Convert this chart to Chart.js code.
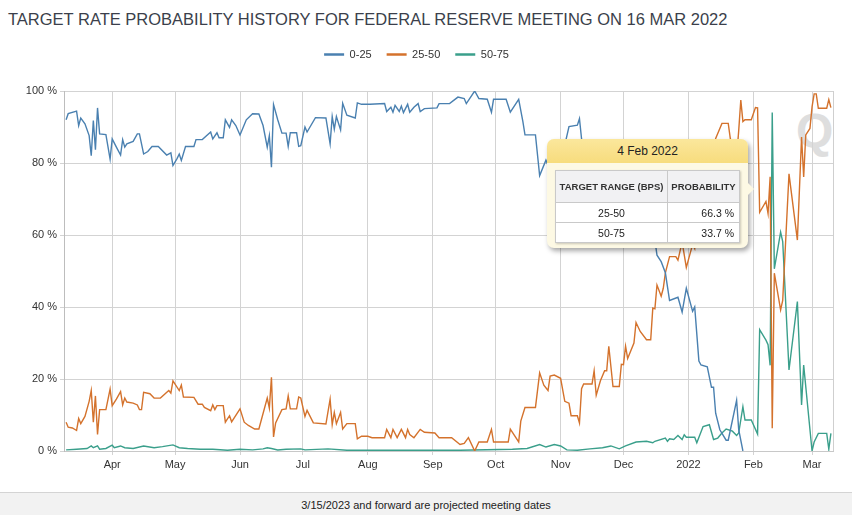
<!DOCTYPE html>
<html>
<head>
<meta charset="utf-8">
<script src="https://cdn.jsdelivr.net/npm/chart.js@4.4.1/dist/chart.umd.min.js"></script>
<style>
  html, body { margin: 0; padding: 0; background: #fff; }
  body { width: 852px; height: 515px; position: relative; overflow: hidden; font-family: "Liberation Sans", Arial, sans-serif; }
  #title { position: absolute; left: 8px; top: 9px; font-size: 16.5px; line-height: 20px; color: #3b3f4b; white-space: nowrap; }
  #logo { position: absolute; left: 796px; top: 104px; font-size: 48px; font-weight: bold; color: #dedede; line-height: 54px; }
  #chart { position: absolute; left: 0; top: 0; }
  #footer { position: absolute; left: 0; top: 492px; width: 852px; height: 23px; border-top: 1px solid #d4d4d4; background: #f2f2f2; text-align: center; font-size: 11px; line-height: 24px; color: #222; }
  #tip { position: absolute; left: 547px; top: 139px; width: 201px; height: 109px; background: #fdf9e4; border-radius: 7px; box-shadow: 2px 3px 5px rgba(0,0,0,0.35); }
  #tip .head { height: 24px; border-radius: 7px 7px 0 0; background: linear-gradient(#fbe79c, #f7dc7d); text-align: center; font-size: 12px; line-height: 25px; color: #222; }
  #tip .arrow { position: absolute; right: -6px; top: 44px; width: 0; height: 0; border-top: 6px solid transparent; border-bottom: 6px solid transparent; border-left: 6px solid #fdf9e4; }
  #tip table { position: absolute; left: 8px; top: 31px; width: 184px; table-layout: fixed; border-collapse: collapse; background: #fff; box-shadow: 1px 1px 2px rgba(0,0,0,0.2); }
  #tip th { height: 31px; background: #f1f1f3; font-size: 9.5px; font-weight: bold; color: #333; border: 1px solid #c9c9c9; padding: 0 2px; white-space: nowrap; }
  #tip td { height: 19px; font-size: 10.5px; color: #222; border: 1px solid #c9c9c9; padding: 0 5px; white-space: nowrap; }
  #tip td.c { text-align: center; }
  #tip td.r { text-align: right; }
</style>
</head>
<body>
<div id="title">TARGET RATE PROBABILITY HISTORY FOR FEDERAL RESERVE MEETING ON 16 MAR 2022</div>
<div id="logo">Q</div>
<canvas id="chart" width="852" height="490"></canvas>
<div id="tip">
  <div class="head">4 Feb 2022</div>
  <div class="arrow"></div>
  <table>
    <colgroup><col style="width:112px"><col style="width:72px"></colgroup>
    <tr><th>TARGET RANGE (BPS)</th><th>PROBABILITY</th></tr>
    <tr><td class="c">25-50</td><td class="r">66.3 %</td></tr>
    <tr><td class="c">50-75</td><td class="r">33.7 %</td></tr>
  </table>
</div>
<div id="footer">3/15/2023 and forward are projected meeting dates</div>

<script>
const xStart = "2021-03-09";
const xEnd = "2022-03-11";

const tickDates = ["2021-04-01", "2021-05-01", "2021-06-01", "2021-07-01", "2021-08-01", "2021-09-01",
    "2021-10-01", "2021-11-01", "2021-12-01", "2022-01-01", "2022-02-01", "2022-03-01"];
const tickLabels = ["Apr", "May", "Jun", "Jul", "Aug", "Sep", "Oct", "Nov", "Dec", "2022", "Feb", "Mar"];

// 0-25
const blueDates = ["2021-03-10","2021-03-11","2021-03-15","2021-03-16","2021-03-17","2021-03-19","2021-03-21","2021-03-22","2021-03-23","2021-03-24",
    "2021-03-25","2021-03-26","2021-03-29","2021-03-31","2021-04-01","2021-04-03","2021-04-05","2021-04-06","2021-04-07","2021-04-08",
    "2021-04-11","2021-04-13","2021-04-14","2021-04-16","2021-04-18","2021-04-20","2021-04-23","2021-04-27","2021-04-29","2021-04-30",
    "2021-05-02","2021-05-03","2021-05-04","2021-05-06","2021-05-10","2021-05-11","2021-05-14","2021-05-18","2021-05-19","2021-05-21",
    "2021-05-22","2021-05-24","2021-05-25","2021-05-27","2021-05-28","2021-05-30","2021-06-01","2021-06-04","2021-06-07","2021-06-10",
    "2021-06-12","2021-06-14","2021-06-15","2021-06-16","2021-06-17","2021-06-19","2021-06-21","2021-06-23","2021-06-24","2021-06-25",
    "2021-06-28","2021-06-29","2021-06-30","2021-07-02","2021-07-03","2021-07-07","2021-07-12","2021-07-14","2021-07-15","2021-07-16",
    "2021-07-17","2021-07-19","2021-07-20","2021-07-22","2021-07-26","2021-07-27","2021-07-29","2021-08-02","2021-08-09","2021-08-10",
    "2021-08-12","2021-08-13","2021-08-14","2021-08-16","2021-08-17","2021-08-18","2021-08-20","2021-08-21","2021-08-23","2021-08-25",
    "2021-08-26","2021-08-28","2021-09-03","2021-09-04","2021-09-09","2021-09-13","2021-09-16","2021-09-17","2021-09-21","2021-09-23",
    "2021-09-27","2021-09-29","2021-09-30","2021-10-06","2021-10-08","2021-10-12","2021-10-14","2021-10-15","2021-10-20","2021-10-22",
    "2021-10-25","2021-10-27","2021-10-30","2021-11-01","2021-11-03","2021-11-05","2021-11-09","2021-11-10","2021-11-11","2021-11-16",
    "2021-11-20","2021-11-24","2021-11-26","2021-11-30","2021-12-06","2021-12-09","2021-12-14","2021-12-17","2021-12-19","2021-12-21",
    "2021-12-23","2021-12-27","2021-12-29","2021-12-31","2022-01-03","2022-01-04","2022-01-06","2022-01-07","2022-01-10","2022-01-12",
    "2022-01-13","2022-01-14","2022-01-16","2022-01-19","2022-01-20","2022-01-24","2022-01-25","2022-01-27"];
const blueValues = [92.0,93.7,94.4,90.4,92.5,90.9,87.6,82.0,91.8,83.7,
    95.3,88.1,87.9,81.1,86.7,84.4,82.2,86.5,84.4,85.3,
    86.0,88.1,88.1,82.5,83.2,84.6,84.6,82.2,82.8,79.3,
    81.3,82.5,80.7,84.6,84.6,86.5,86.5,88.6,86.7,88.4,
    87.0,87.0,92.0,89.9,92.0,90.4,87.8,92.0,93.7,93.6,
    90.4,84.4,87.6,78.8,96.2,92.0,88.3,88.3,84.6,88.4,
    88.4,84.6,84.8,90.0,88.6,92.6,92.5,85.3,92.9,89.4,
    92.9,89.2,96.6,93.3,92.5,96.7,96.3,96.3,96.5,94.3,
    95.5,94.1,96.0,94.3,95.8,94.0,96.3,94.1,95.5,96.5,
    94.3,95.1,95.3,96.5,96.5,98.3,97.9,96.5,100,97.9,
    97.7,94.1,97.7,97.7,94.1,97.7,91.5,87.8,87.8,76.5,
    80.8,78.0,77.5,78.5,85.0,90.1,90.5,92.3,86.7,80.5,
    79.5,70.0,81.0,74.5,68.0,64.0,67.0,54.4,52.6,49.5,
    41.8,42.7,38.6,45.2,38.8,40.0,25.0,23.9,23.4,17.7,
    17.7,10.5,5.9,3.0,3.0,14.1,5.9,0];

// 25-50
const orangeDates = ["2021-03-10","2021-03-11","2021-03-13","2021-03-15","2021-03-16","2021-03-17","2021-03-19","2021-03-21","2021-03-22","2021-03-23",
    "2021-03-24","2021-03-25","2021-03-26","2021-03-29","2021-03-31","2021-04-01","2021-04-03","2021-04-05","2021-04-06","2021-04-07",
    "2021-04-08","2021-04-11","2021-04-13","2021-04-14","2021-04-15","2021-04-16","2021-04-19","2021-04-21","2021-04-24","2021-04-28",
    "2021-04-29","2021-04-30","2021-05-03","2021-05-04","2021-05-05","2021-05-10","2021-05-12","2021-05-14","2021-05-15","2021-05-18",
    "2021-05-19","2021-05-20","2021-05-21","2021-05-24","2021-05-25","2021-05-27","2021-05-28","2021-06-01","2021-06-03","2021-06-05",
    "2021-06-08","2021-06-10","2021-06-14","2021-06-15","2021-06-16","2021-06-17","2021-06-18","2021-06-21","2021-06-23","2021-06-24",
    "2021-06-25","2021-06-28","2021-06-29","2021-06-30","2021-07-02","2021-07-03","2021-07-06","2021-07-12","2021-07-14","2021-07-15",
    "2021-07-16","2021-07-17","2021-07-19","2021-07-20","2021-07-22","2021-07-26","2021-07-27","2021-07-29","2021-08-01","2021-08-03",
    "2021-08-09","2021-08-10","2021-08-12","2021-08-13","2021-08-15","2021-08-17","2021-08-19","2021-08-20","2021-08-21","2021-08-23",
    "2021-08-26","2021-08-28","2021-09-02","2021-09-04","2021-09-10","2021-09-14","2021-09-16","2021-09-18","2021-09-21","2021-09-23",
    "2021-09-27","2021-09-29","2021-09-30","2021-10-07","2021-10-08","2021-10-12","2021-10-13","2021-10-15","2021-10-20","2021-10-22",
    "2021-10-24","2021-10-26","2021-10-27","2021-10-29","2021-11-01","2021-11-03","2021-11-05","2021-11-06","2021-11-09","2021-11-10",
    "2021-11-11","2021-11-12","2021-11-16","2021-11-17","2021-11-18","2021-11-20","2021-11-22","2021-11-23","2021-11-24","2021-11-26",
    "2021-11-29","2021-11-30","2021-12-01","2021-12-02","2021-12-03","2021-12-06","2021-12-07","2021-12-09","2021-12-12","2021-12-14",
    "2021-12-15","2021-12-16","2021-12-17","2021-12-19","2021-12-20","2021-12-21","2021-12-23","2021-12-26","2021-12-27","2021-12-29",
    "2021-12-31","2022-01-03","2022-01-04","2022-01-06","2022-01-07","2022-01-10","2022-01-12","2022-01-14","2022-01-17","2022-01-20",
    "2022-01-21","2022-01-24","2022-01-25","2022-01-26","2022-01-27","2022-01-28","2022-01-31","2022-02-02","2022-02-03","2022-02-04",
    "2022-02-07","2022-02-08","2022-02-09","2022-02-10","2022-02-11","2022-02-14","2022-02-15","2022-02-18","2022-02-22","2022-02-24",
    "2022-02-25","2022-02-26","2022-02-28","2022-03-01","2022-03-02","2022-03-03","2022-03-04","2022-03-08","2022-03-09","2022-03-10"];
const orangeValues = [8.0,6.6,6.4,5.7,9.0,7.6,9.6,13.8,16.8,8.0,
    15.3,4.6,11.5,11.5,17.2,12.6,14.4,16.5,12.8,14.7,
    13.6,13.3,12.8,11.5,11.5,16.3,15.9,14.7,14.7,16.8,
    16.1,19.5,16.8,18.3,15.0,14.9,13.0,13.0,12.1,11.2,
    12.8,11.5,12.6,12.6,8.0,9.8,8.1,11.7,8.0,7.1,
    6.1,6.1,14.7,11.9,20.5,3.9,7.8,11.5,11.7,15.3,
    11.7,11.7,15.0,14.7,9.6,11.3,7.8,7.5,14.4,7.3,
    10.7,7.6,10.7,6.1,7.6,7.6,3.4,4.1,4.1,3.7,
    3.7,6.0,3.7,6.0,3.7,6.0,3.7,6.0,4.6,3.7,
    6.0,5.2,5.0,3.7,3.7,1.8,2.1,3.7,0,2.5,
    2.5,6.0,2.5,2.5,6.1,2.5,8.3,12.1,12.1,21.7,
    18.3,16.8,20.8,21.1,20.2,13.8,13.3,9.8,9.8,7.8,
    17.3,18.6,18.6,22.3,15.5,19.5,22.3,22.3,29.1,17.9,
    17.9,24.1,24.0,29.1,25.7,30.0,35.7,33.2,30.9,30.9,
    39.7,39.5,46.1,43.0,45.2,49.5,54.0,54.0,53.0,58.0,
    51.0,57.4,56.2,71.0,70.0,69.6,78.0,86.8,91.0,91.0,
    86.8,81.6,89.0,97.5,91.5,92.0,92.0,95.4,95.3,66.3,
    69.3,66.0,76.2,6.3,49.4,39.2,41.8,77.0,58.6,87.2,
    76.1,87.8,89.6,95.6,99.2,99.2,95.2,95.2,97.6,95.4];

// 50-75
const greenDates = ["2021-03-10","2021-03-15","2021-03-20","2021-03-22","2021-03-23","2021-03-25","2021-03-26","2021-03-29","2021-04-01","2021-04-02",
    "2021-04-05","2021-04-07","2021-04-11","2021-04-16","2021-04-21","2021-04-25","2021-04-30","2021-05-03","2021-05-07","2021-05-13",
    "2021-05-19","2021-05-26","2021-06-01","2021-06-07","2021-06-12","2021-06-14","2021-06-16","2021-06-19","2021-06-23","2021-06-30",
    "2021-07-02","2021-07-13","2021-07-22","2021-08-16","2021-09-14","2021-10-09","2021-10-16","2021-10-22","2021-10-25","2021-10-29",
    "2021-11-01","2021-11-04","2021-11-09","2021-11-15","2021-11-21","2021-11-25","2021-11-29","2021-12-02","2021-12-07","2021-12-12",
    "2021-12-15","2021-12-16","2021-12-21","2021-12-22","2021-12-23","2021-12-25","2021-12-27","2021-12-29","2021-12-30","2021-12-31",
    "2022-01-04","2022-01-05","2022-01-08","2022-01-11","2022-01-13","2022-01-15","2022-01-17","2022-01-19","2022-01-22","2022-01-24",
    "2022-01-25","2022-01-27","2022-01-28","2022-01-31","2022-02-03","2022-02-04","2022-02-07","2022-02-08","2022-02-09","2022-02-10",
    "2022-02-11","2022-02-14","2022-02-15","2022-02-18","2022-02-22","2022-02-24","2022-02-25","2022-03-01","2022-03-02","2022-03-04",
    "2022-03-08","2022-03-09","2022-03-10"];
const greenValues = [0.3,0.5,0.7,1.4,0.9,1.4,0.5,0.7,1.6,0.9,
    1.4,0.9,0.7,1.4,0.9,1.2,1.7,0.9,0.7,0.5,
    0.5,0.2,0.5,0.3,0.6,0.9,0.7,0.3,0.5,0.6,
    0.3,0.6,0.2,0.2,0.2,0.5,0.7,1.8,1.1,1.8,
    1.4,0.3,0.2,0.6,0.9,1.4,0.6,1.4,2.5,2.7,
    2.3,2.7,3.6,2.7,3.4,3.2,4.3,3.2,4.5,3.8,
    3.8,2.3,6.8,7.3,3.2,3.6,5.0,6.1,5.5,4.3,
    5.0,12.3,8.6,8.6,4.7,33.7,30.8,29.5,23.8,94.0,
    50.6,60.8,58.2,22.5,41.5,12.8,23.9,0,2.5,4.9,
    4.9,0.5,4.9];

const DAY = 86400000;
function toDay(s) {
    return (Date.parse(s) - Date.parse(xStart)) / DAY;
}
function points(dates, values) {
    return dates.map((d, i) => ({ x: toDay(d), y: values[i] }));
}

Chart.defaults.font.family = '"Liberation Sans", Arial, sans-serif';
Chart.defaults.font.size = 11;
Chart.defaults.color = "#333";

// push the plot down below the legend
const legendGap = {
    id: "legendGap",
    beforeInit(chart) {
        const fit = chart.legend.fit;
        chart.legend.fit = function () {
            fit.bind(chart.legend)();
            this.height += 21;
        };
    }
};

// right edge of the plot frame
const plotBorder = {
    id: "plotBorder",
    beforeDatasetsDraw(chart) {
        const a = chart.chartArea;
        const ctx = chart.ctx;
        ctx.save();
        ctx.strokeStyle = "#cfcfcf";
        ctx.lineWidth = 1;
        ctx.beginPath();
        ctx.moveTo(Math.round(a.right) + 0.5, a.top);
        ctx.lineTo(Math.round(a.right) + 0.5, a.bottom);
        ctx.stroke();
        ctx.restore();
    }
};

const series = [
    { label: "0-25", data: points(blueDates, blueValues), color: "#4a80b0" },
    { label: "25-50", data: points(orangeDates, orangeValues), color: "#d4722c" },
    { label: "50-75", data: points(greenDates, greenValues), color: "#3a9f8b" }
];

new Chart(document.getElementById("chart"), {
    type: "line",
    data: {
        datasets: series.map(s => ({
            label: s.label,
            data: s.data,
            borderColor: s.color,
            backgroundColor: s.color,
            borderWidth: 1.4,
            pointRadius: 0,
            tension: 0,
            fill: false
        }))
    },
    options: {
        responsive: false,
        animation: false,
        devicePixelRatio: 1,
        layout: { padding: { top: 34, right: 19, left: 0, bottom: 0 } },
        plugins: {
            legend: {
                position: "top",
                align: "center",
                labels: {
                    usePointStyle: true,
                    pointStyle: "line",
                    pointStyleWidth: 20,
                    padding: 15,
                    color: "#333",
                    font: { size: 11 },
                    generateLabels(chart) {
                        const items = Chart.defaults.plugins.legend.labels.generateLabels(chart);
                        items.forEach(it => { it.lineWidth = 2.5; });
                        return items;
                    }
                }
            },
            tooltip: { enabled: false }
        },
        scales: {
            x: {
                type: "linear",
                min: toDay(xStart),
                max: toDay(xEnd),
                afterBuildTicks(scale) {
                    scale.ticks = tickDates.map(d => ({ value: toDay(d) }));
                },
                afterFit(scale) { scale.height = 39; },
                ticks: {
                    autoSkip: false,
                    maxRotation: 0,
                    padding: 3,
                    color: "#333",
                    callback: (v, i) => tickLabels[i]
                },
                grid: { color: "#d3d3d3", tickLength: 4 },
                border: { color: "#c8c8c8" }
            },
            y: {
                min: 0,
                max: 100,
                afterFit(scale) { scale.width = 64; },
                ticks: {
                    stepSize: 20,
                    padding: 3,
                    color: "#333",
                    callback: v => v + " %"
                },
                grid: { color: "#d3d3d3", tickLength: 4 },
                border: { color: "#bdbdbd" }
            }
        }
    },
    plugins: [legendGap, plotBorder]
});
</script>
</body>
</html>
